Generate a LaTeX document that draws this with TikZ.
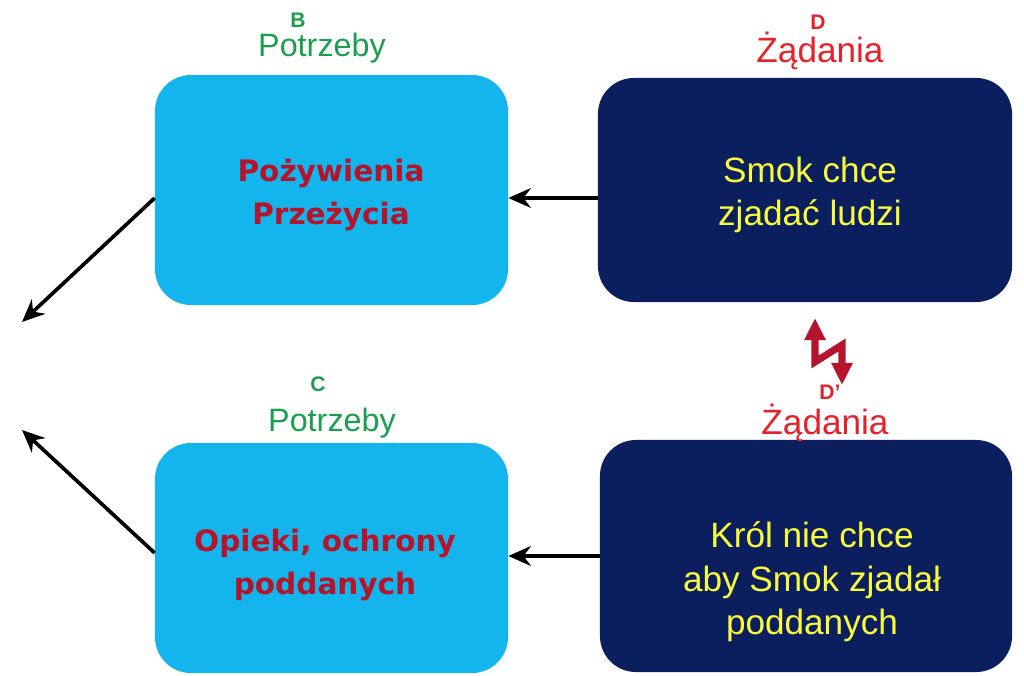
\documentclass[tikz,border=0pt]{standalone}
\usepackage{fontspec}
\setmainfont{Liberation Sans}
\newfontfamily\roundfont{DejaVu Sans}
\usetikzlibrary{arrows.meta}
\definecolor{skyfill}{HTML}{14B4EC}
\definecolor{navyfill}{HTML}{0B1F5E}
\definecolor{needred}{HTML}{B5142B}
\definecolor{labred}{HTML}{E5222B}
\definecolor{labgreen}{HTML}{1B9F4F}
\definecolor{wishyellow}{HTML}{FAFA3C}
\tikzset{
  needbox/.style={rounded corners=0.9cm, fill=skyfill, minimum width=8.825cm,
    minimum height=5.75cm},
  wishbox/.style={rounded corners=0.9cm, fill=navyfill},
  needtext/.style={align=center, text=needred,
    font=\roundfont\bfseries\fontsize{21}{30}\selectfont},
  wishtext/.style={align=center, text=wishyellow, font=\fontsize{25}{31}\selectfont},
  tag/.style={font=\fontsize{15}{17}\selectfont\bfseries},
  flow/.style={line width=2.6pt, -{Stealth[length=16pt,width=14pt]}},
}
\begin{document}
\begin{tikzpicture}[x=0.025cm,y=-0.025cm]
  \useasboundingbox (0,0) rectangle (1024,676);
  % Needs (left)
  \node[needbox] (needB) at (331.5,190) {};
  \node[needtext] (txtB) at (331,195) {Pożywienia\\Przeżycia};
  \node[needbox] (needC) at (331.5,558) {};
  \node[needtext] (txtC) at (325,565) {Opieki, ochrony\\poddanych};
  % Demands (right)
  \node[wishbox, minimum width=10.35cm, minimum height=5.6cm] (wishD) at (805,190) {};
  \node[wishtext] (txtD) at (810,195) {Smok chce\\zjadać ludzi};
  \node[wishbox, minimum width=10.3cm, minimum height=5.8cm] (wishDp) at (806,556) {};
  \node[wishtext] (txtDp) at (812,582) {Król nie chce\\aby Smok zjadał\\poddanych};
  % Headings
  \node[tag,text=labgreen] (tagB) at (298,20) {B};
  \node[text=labgreen,font=\fontsize{23}{26}\selectfont] (headB) at (322,48) {Potrzeby};
  \node[tag,text=labred] (tagD) at (818,22) {D};
  \node[text=labred,font=\fontsize{25}{28}\selectfont] (headD) at (820,51) {Żądania};
  \node[tag,text=labgreen] (tagC) at (318,384) {C};
  \node[text=labgreen,font=\fontsize{23}{26}\selectfont] (headC) at (332,423) {Potrzeby};
  \node[tag,text=labred] (tagDp) at (830,392) {D’};
  \node[text=labred,font=\fontsize{25}{28}\selectfont] (headDp) at (825,423) {Żądania};
  % Arrows
  \coordinate (outB) at (22,322);
  \coordinate (outC) at (22,430);
  \draw[flow] ([yshift=-0.2cm]wishD.west) -- ([yshift=-0.2cm]needB.east);
  \draw[flow] (wishDp.west) -- (wishDp.west -| needC.east);
  \draw[flow] ([yshift=-0.2cm]needB.west) -- (outB);
  \draw[flow] ([yshift=0.125cm]needC.west) -- (outC);
  % Conflict zigzag
  \coordinate (zigTop) at (815,318);
  \coordinate (zigBot) at (842,385);
  \draw[needred, line width=5pt, line join=miter,
    {Triangle[length=0.55cm,width=0.5cm]}-{Triangle[length=0.55cm,width=0.5cm]}]
    (zigTop) -- (815,362) -- (842,345) -- (zigBot);
\end{tikzpicture}
\end{document}
